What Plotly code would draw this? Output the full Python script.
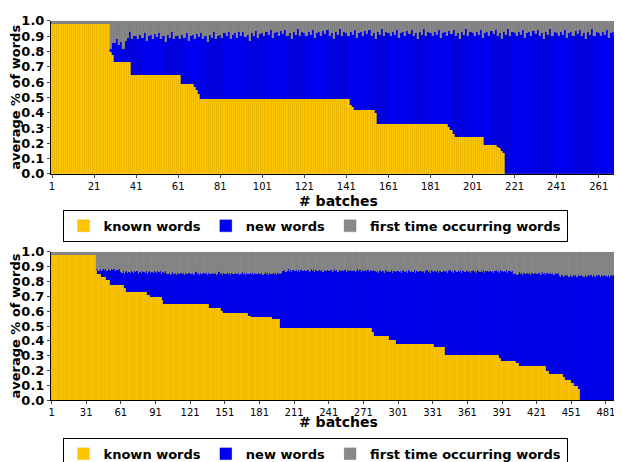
import plotly.graph_objects as go

# known-word share per batch, run-length encoded as (value, number of batches)
top_known_runs = [(0.98, 28), (0.80, 1), (0.78, 1), (0.73, 8), (0.65, 24), (0.59, 6),
                  (0.57, 1), (0.55, 1), (0.52, 1), (0.49, 71), (0.45, 1), (0.44, 1),
                  (0.42, 10), (0.40, 1), (0.33, 34), (0.31, 1), (0.29, 1), (0.26, 1),
                  (0.24, 14), (0.19, 6), (0.18, 1), (0.17, 1), (0.15, 1), (0.14, 1),
                  (0.0, 57)]
# known + new words (top of the blue part), run-length encoded
top_upper_runs = [(0.98, 28), (0.84, 2), (0.86, 6), (0.90, 44), (0.91, 20), (0.92, 173)]
top_jitter = [0.0, -0.02, 0.01, -0.01, 0.02, -0.03, 0.0, 0.01, -0.02, 0.015,
              -0.005, 0.02, -0.015, 0.0, -0.04, 0.01, -0.01, 0.025, -0.02, 0.005]

bot_known_runs = [(0.98, 39), (0.88, 1), (0.85, 3), (0.83, 5), (0.81, 3), (0.78, 12),
                  (0.76, 2), (0.73, 18), (0.71, 3), (0.70, 10), (0.68, 1), (0.65, 40),
                  (0.62, 10), (0.60, 2), (0.59, 22), (0.57, 2), (0.56, 18), (0.55, 7),
                  (0.49, 80), (0.46, 2), (0.435, 13), (0.41, 6), (0.38, 33), (0.36, 9),
                  (0.31, 47), (0.29, 2), (0.27, 13), (0.25, 2), (0.23, 24), (0.20, 2),
                  (0.18, 12), (0.16, 2), (0.14, 5), (0.12, 3), (0.10, 3), (0.08, 2),
                  (0.0, 39)]
bot_upper_runs = [(0.98, 39), (0.88, 21), (0.865, 40), (0.855, 100), (0.875, 80),
                  (0.87, 120), (0.855, 40), (0.84, 57)]
bot_jitter = [0.0, -0.005, 0.005, -0.01, 0.0, 0.008, -0.004, 0.003, -0.008, 0.006,
              0.0, -0.006, 0.004, -0.002, 0.007, -0.01, 0.002, 0.0, -0.003, 0.005]

GOLD, BLUE, GRAY = "#FFC400", "#0000F0", "#888888"
LINES = {"known words": "#D9AC00", "new words": "#0000D0", "first time occurring words": "#777777"}


def expand(runs):
    out = []
    for v, n in runs:
        out += [v] * n
    return out


def shares(known_runs, upper_runs, jitter):
    known = expand(known_runs)
    upper = expand(upper_runs)
    new, first = [], []
    for i, (k, u) in enumerate(zip(known, upper)):
        if u < 0.97:
            u = u + jitter[i % len(jitter)]
        new.append(max(u - k, 0))
        first.append(1.0 - max(u, k))
    return known, new, first


fig = go.Figure()
panels = [
    ("x", "y", "legend", 0.3, shares(top_known_runs, top_upper_runs, top_jitter)),
    ("x2", "y2", "legend2", 0.15, shares(bot_known_runs, bot_upper_runs, bot_jitter)),
]
for xa, ya, leg, lw, (known, new, first) in panels:
    xs = list(range(1, len(known) + 1))
    for name, vals, col in [("known words", known, GOLD), ("new words", new, BLUE),
                            ("first time occurring words", first, GRAY)]:
        fig.add_trace(go.Bar(x=xs, y=vals, name="<b>" + name + "</b>", xaxis=xa, yaxis=ya, legend=leg,
                             marker=dict(color=col, line=dict(color=LINES[name], width=lw))))

font = dict(family="DejaVu Sans", size=11, color="black")
axis_common = dict(showgrid=False, zeroline=False, showline=True, linecolor="black",
                   ticks="outside", ticklen=3, tickprefix="<b>", ticksuffix="</b>",
                   tickfont=dict(family="DejaVu Sans", size=10, color="black"))
yax = dict(axis_common, range=[0, 1.0], dtick=0.1, tickformat=".1f",
           tickfont=dict(family="DejaVu Sans", size=13, color="black"),
           title=dict(text="<b>average % of words</b>", font=dict(family="DejaVu Sans", size=13), standoff=2))
leg_common = dict(orientation="h", xanchor="center", x=0.46, bordercolor="black", borderwidth=1,
                  font=dict(family="DejaVu Sans", size=13, color="black"), itemwidth=30,
                  traceorder="normal", tracegroupgap=0, bgcolor="white", yanchor="top")

fig.update_layout(
    width=622, height=462, margin=dict(l=43, r=5, t=0, b=0),
    paper_bgcolor="white", plot_bgcolor="white", barmode="stack", bargap=0, font=font,
    xaxis=dict(axis_common, domain=[0, 1], range=[0.5, 273.5], tickvals=list(range(1, 262, 20)), anchor="y"),
    yaxis=dict(yax, domain=[0.643, 0.987], anchor="x"),
    xaxis2=dict(axis_common, domain=[0, 1], range=[0.5, 497.5], tickvals=list(range(1, 482, 30)), anchor="y2"),
    yaxis2=dict(yax, domain=[0.134, 0.468], anchor="x2"),
    legend=dict(leg_common, y=0.562),
    legend2=dict(leg_common, y=0.05),
    annotations=[
        dict(text="<b># batches</b>", x=0.5, y=0.582, xref="paper", yref="paper", showarrow=False,
             font=dict(family="DejaVu Sans", size=14)),
        dict(text="<b># batches</b>", x=0.5, y=0.064, xref="paper", yref="paper", showarrow=False,
             font=dict(family="DejaVu Sans", size=14)),
    ],
)
fig.write_html("out.html")
